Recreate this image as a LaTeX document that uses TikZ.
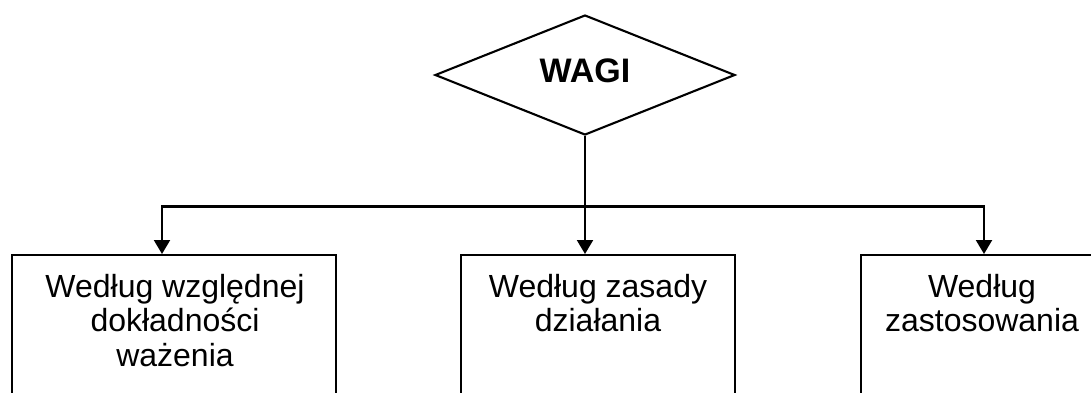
\documentclass[tikz,border=0pt]{standalone}
\usepackage{fontspec}
\setmainfont{Liberation Sans}
\usetikzlibrary{shapes.geometric,arrows.meta}
\begin{document}
\begin{tikzpicture}[x=1pt,y=-1pt,
  ln/.style={line width=2.1pt, line join=miter},
  arr/.style={ln, -{Triangle[length=14pt,width=16pt]}},
  boxstyle/.style={draw, ln, rectangle, anchor=north, minimum height=160pt, inner sep=0pt},
  lbl/.style={anchor=north, align=center, inner sep=0pt, font=\fontsize{32}{34.5}\selectfont},
  dia/.style={draw, ln, diamond, minimum width=300pt, minimum height=120pt, inner sep=0pt}
]
\path[use as bounding box] (0,0) rectangle (1091,392);
\clip (0,0) rectangle (1091,392);
\fill[white] (0,0) rectangle (1091,392);

% diamond
\node[dia] (d) at (585,75) {};
\node[anchor=base, inner sep=0pt, font=\fontsize{34}{40}\selectfont\bfseries] (t) at (585,82.7) {WAGI};

% boxes
\node[boxstyle, minimum width=324pt] (b1) at (174,254) {};
\node[boxstyle, minimum width=274pt] (b2) at (598,254) {};
\node[boxstyle, minimum width=246pt] (b3) at (984,254) {};

\node[lbl] (l1) at (175,273.8) {Według względnej\\dokładności\\ważenia};
\node[lbl] (l2) at (598,273.8) {Według zasady\\działania};
\node[lbl] (l3) at (982,273.8) {Według\\zastosowania};

% connectors
\coordinate (jL) at (162,206.5);
\coordinate (jR) at (984,206.5);
\draw[ln, {Triangle[length=14pt,width=16pt]}-{Triangle[length=14pt,width=16pt]}]
  (jL |- b1.north) -- (jL) -- (jR) -- (jR |- b3.north);
\draw[arr] (d.south) -- (d.south |- b2.north);
\end{tikzpicture}
\end{document}
